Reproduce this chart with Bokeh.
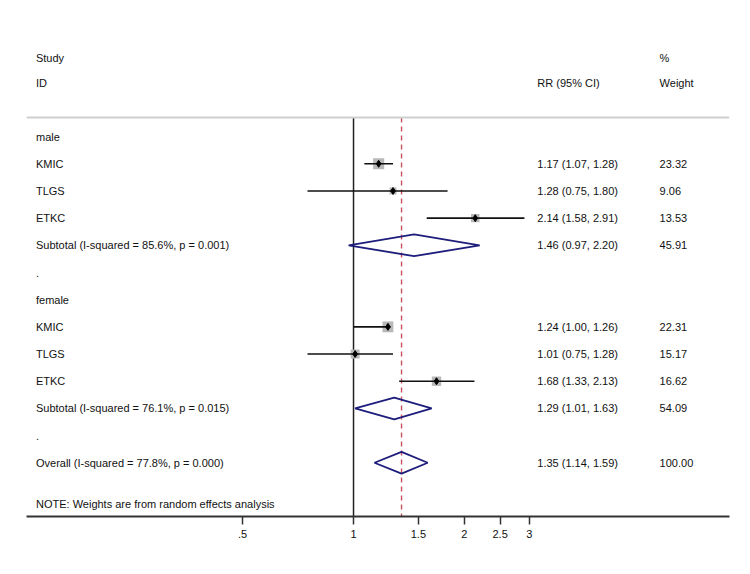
import math
from bokeh.plotting import figure
from bokeh.models import Range1d, FixedTicker, CustomJSTickFormatter, Span, ColumnDataSource
from bokeh.core.properties import value
from bokeh.embed import file_html
from bokeh.resources import INLINE

# ---------------- data ----------------
groups = ["male", "female"]
studies = ["KMIC", "TLGS", "ETKC"]

rr_male = [1.17, 1.28, 2.14]
lo_male = [1.07, 0.75, 1.58]
hi_male = [1.28, 1.80, 2.91]
w_male = [23.32, 9.06, 13.53]

rr_female = [1.24, 1.01, 1.68]
lo_female = [1.00, 0.75, 1.33]
hi_female = [1.26, 1.28, 2.13]
w_female = [22.31, 15.17, 16.62]

sub_labels = ["Subtotal  (I-squared = 85.6%, p = 0.001)",
              "Subtotal  (I-squared = 76.1%, p = 0.015)"]
sub_rr = [1.46, 1.29]
sub_lo = [0.97, 1.01]
sub_hi = [2.20, 1.63]
sub_w = [45.91, 54.09]

overall_label = "Overall  (I-squared = 77.8%, p = 0.000)"
overall_rr = 1.35
overall_lo = 1.14
overall_hi = 1.59
overall_w = 100.00

note = "NOTE: Weights are from random effects analysis"
tick_values = [0.5, 1, 1.5, 2, 2.5, 3]
tick_labels = [".5", "1", "1.5", "2", "2.5", "3"]

# ---------------- layout ----------------
FONT = value("Liberation Sans")
FS = "11px"
LEFT_X, RR_X, WT_X = 0.1374, 3.154, 6.775
Y_TOP, Y_BOT = -4.713, 13.977
HEAD1, HEAD2, HLINE, NOTE_Y = -2.91, -1.97, -0.70, 13.5

p = figure(width=742, height=566, x_axis_type="log",
           x_range=Range1d(0.1295, 10.486), y_range=Range1d(Y_BOT, Y_TOP),
           output_backend="svg", toolbar_location=None,
           min_border_left=26, min_border_right=13, min_border_top=8,
           min_border_bottom=50, y_axis_location=None)
p.xgrid.visible = False
p.ygrid.visible = False
p.outline_line_color = None
p.background_fill_color = "white"
p.border_fill_color = "white"

# rows
rows_left, rows_rr, rows_wt = [], [], []
study_y, study_rr, study_lo, study_hi, study_w = [], [], [], [], []
diam_xs, diam_ys = [], []

r = 0
group_data = [(rr_male, lo_male, hi_male, w_male), (rr_female, lo_female, hi_female, w_female)]
for gi, g in enumerate(groups):
    rows_left.append((r, g)); r += 1
    rr_, lo_, hi_, w_ = group_data[gi]
    for si, s in enumerate(studies):
        rows_left.append((r, s))
        rows_rr.append((r, f"{rr_[si]:.2f} ({lo_[si]:.2f}, {hi_[si]:.2f})"))
        rows_wt.append((r, f"{w_[si]:.2f}"))
        study_y.append(r); study_rr.append(rr_[si]); study_lo.append(lo_[si])
        study_hi.append(hi_[si]); study_w.append(w_[si])
        r += 1
    rows_left.append((r, sub_labels[gi]))
    rows_rr.append((r, f"{sub_rr[gi]:.2f} ({sub_lo[gi]:.2f}, {sub_hi[gi]:.2f})"))
    rows_wt.append((r, f"{sub_w[gi]:.2f}"))
    diam_xs.append([sub_lo[gi], sub_rr[gi], sub_hi[gi], sub_rr[gi]])
    diam_ys.append([r, r - 0.4, r, r + 0.4])
    r += 1
    rows_left.append((r, ".")); r += 1

rows_left.append((r, overall_label))
rows_rr.append((r, f"{overall_rr:.2f} ({overall_lo:.2f}, {overall_hi:.2f})"))
rows_wt.append((r, f"{overall_w:.2f}"))
diam_xs.append([overall_lo, overall_rr, overall_hi, overall_rr])
diam_ys.append([r, r - 0.4, r, r + 0.4])
rows_left.append((NOTE_Y, note))

# header line
p.add_layout(Span(location=HLINE, dimension="width", line_color="#cfcfcf", line_width=2))

# reference lines
p.segment(x0=[1], y0=[HLINE], x1=[1], y1=[Y_BOT], line_color="#222222", line_width=1.5)
p.segment(x0=[overall_rr], y0=[HLINE], x1=[overall_rr], y1=[Y_BOT],
          line_color="#c8505e", line_width=1.4, line_dash="5 4")

# study markers
src = ColumnDataSource(dict(y=study_y, rr=study_rr, lo=study_lo, hi=study_hi,
                            size=[2.3 * math.sqrt(w) for w in study_w]))
p.scatter(x="rr", y="y", size="size", marker="square", source=src,
          fill_color="#b8b8b8", line_color=None)
p.segment(x0="lo", y0="y", x1="hi", y1="y", source=src, line_color="#111111", line_width=1.6)
p.scatter(x="rr", y="y", size=7, marker="diamond", source=src,
          fill_color="black", line_color="black")

# pooled diamonds
p.patches(xs=diam_xs, ys=diam_ys, fill_color=None, line_color="#1d1d7c", line_width=1.8)

# texts
def add_text(x, items):
    p.text(x=[x] * len(items), y=[i[0] for i in items], text=[i[1] for i in items],
           text_font=FONT, text_font_size=FS, text_color="#111111",
           text_align="left", text_baseline="middle")

add_text(LEFT_X, rows_left + [(HEAD1, "Study"), (HEAD2, "ID")])
add_text(RR_X, rows_rr + [(HEAD2, "RR (95% CI)")])
add_text(WT_X, rows_wt + [(HEAD1, "%"), (HEAD2, "Weight")])

# axis
ax = p.xaxis[0]
ax.ticker = FixedTicker(ticks=tick_values, minor_ticks=[])
ax.formatter = CustomJSTickFormatter(args=dict(tv=tick_values, tl=tick_labels), code="""
    for (let i = 0; i < tv.length; i++) {
        if (Math.abs(tv[i] - tick) < 1e-9) return tl[i];
    }
    return '';
""")
ax.axis_line_color = "#333333"
ax.axis_line_width = 2
ax.major_tick_line_color = "#333333"
ax.major_tick_line_width = 1.5
ax.major_tick_out = 8
ax.major_tick_in = 0
ax.minor_tick_line_color = None
ax.major_label_text_font = "Liberation Sans"
ax.major_label_text_font_size = "11px"
ax.major_label_text_color = "#111111"
ax.major_label_standoff = 5

open("out.html", "w").write(file_html(p, INLINE))
